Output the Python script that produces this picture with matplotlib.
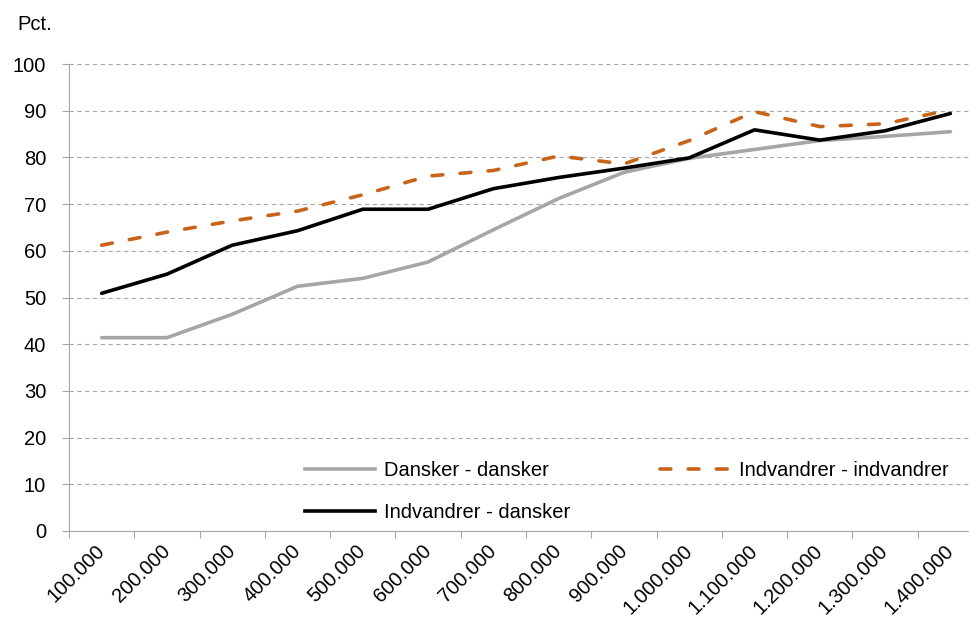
import matplotlib
matplotlib.use('Agg')
import matplotlib.pyplot as plt
from matplotlib.lines import Line2D

plt.rcParams['font.family'] = ['Liberation Sans', 'DejaVu Sans']

categories = ['100.000', '200.000', '300.000', '400.000', '500.000', '600.000',
              '700.000', '800.000', '900.000', '1.000.000', '1.100.000',
              '1.200.000', '1.300.000', '1.400.000']
dansker_dansker = [41.4, 41.4, 46.4, 52.4, 54.1, 57.6, 64.5, 71.2, 76.8, 79.8,
                   81.7, 83.6, 84.5, 85.5]
indv_indv = [61.2, 64.0, 66.4, 68.5, 72.0, 76.0, 77.2, 80.3, 78.6, 83.6,
             89.8, 86.6, 87.2, 90.2]
indv_dansker = [50.9, 55.0, 61.2, 64.3, 68.9, 68.9, 73.3, 75.7, 77.7, 79.9,
                85.9, 83.7, 85.7, 89.4]
yticks = [0, 10, 20, 30, 40, 50, 60, 70, 80, 90, 100]

FS = 14.5
GRID = '#A6A6A6'
LW = 2.6

fig = plt.figure(figsize=(9.69, 6.30), dpi=100)
# plot area runs slightly past the right edge, as in the reference
ax = fig.add_axes([69 / 969, 99 / 630, 914 / 969, 467 / 630])

x = list(range(1, len(categories) + 1))

ax.plot(x, dansker_dansker, color='#A6A6A6', linewidth=LW, solid_capstyle='round',
        zorder=3)
ax.plot(x, indv_dansker, color='#000000', linewidth=LW, solid_capstyle='round',
        zorder=4)
ax.plot(x, indv_indv, color='#C8641A', linewidth=LW, dashes=(3.0, 4.8),
        dash_capstyle='round', zorder=5)

ax.set_xlim(0.5, len(categories) + 0.5)
ax.set_ylim(0, 100)

# horizontal dashed grid
ax.set_yticks(yticks)
ax.yaxis.grid(True, color=GRID, linestyle=(0, (4, 3)), linewidth=0.8)
ax.set_axisbelow(True)
ax.tick_params(axis='y', length=5, width=0.8, color=GRID, pad=11.5, labelsize=FS)

# tick marks between categories, labels at category centres
ax.set_xticks([i + 0.5 for i in range(0, len(categories) + 1)])
ax.set_xticklabels([])
ax.set_xticks(x, minor=True)
ax.set_xticklabels(categories, minor=True, rotation=45, ha='right',
                   va='center', rotation_mode='anchor', fontsize=FS)
ax.tick_params(axis='x', which='major', length=5, width=0.8, color=GRID)
ax.tick_params(axis='x', which='minor', length=0, pad=12)

for side in ['top', 'right']:
    ax.spines[side].set_visible(False)
for side in ['left', 'bottom']:
    ax.spines[side].set_color(GRID)
    ax.spines[side].set_linewidth(0.8)

fig.text(17 / 969, 1 - 25 / 630, 'Pct.', ha='left', va='center', fontsize=FS)

handles = [
    Line2D([], [], color='#A6A6A6', linewidth=LW),
    Line2D([], [], color='#000000', linewidth=LW),
    Line2D([], [], color='#C8641A', linewidth=LW, dashes=(3.0, 4.8),
           dash_capstyle='round'),
]
labels = ['Dansker - dansker', 'Indvandrer - dansker', 'Indvandrer - indvandrer']
fig.legend(handles, labels, ncol=2, loc='upper left',
           bbox_to_anchor=(305 / 969, 1 - 461 / 630), bbox_transform=fig.transFigure,
           frameon=False, fontsize=FS, handlelength=3.5, handletextpad=0.4,
           columnspacing=4.5, labelspacing=1.15, borderpad=0, borderaxespad=0)

plt.savefig('out.png', dpi=100)
